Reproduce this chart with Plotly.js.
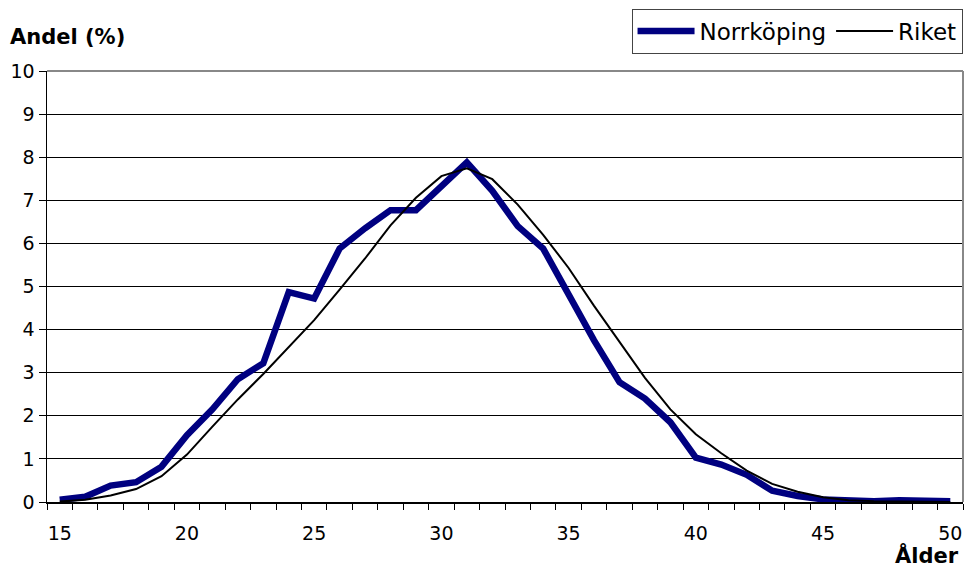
<!DOCTYPE html>
<html>
<head>
<meta charset="utf-8">
<script src="https://cdn.plot.ly/plotly-3.0.1.min.js"></script>
<style>html,body{margin:0;padding:0;background:#fff;}#chart{width:965px;height:579px;}</style>
</head>
<body>
<div id="chart"></div>
<script>
const ages = [15,16,17,18,19,20,21,22,23,24,25,26,27,28,29,30,31,32,33,34,35,36,37,38,39,40,41,42,43,44,45,46,47,48,49,50];
const norrkoping = [0.05,0.12,0.38,0.46,0.82,1.55,2.15,2.85,3.22,4.87,4.72,5.88,6.35,6.77,6.77,7.32,7.88,7.22,6.4,5.88,4.8,3.75,2.78,2.4,1.85,1.03,0.87,0.63,0.26,0.14,0.06,0.03,0.02,0.04,0.04,0.02];
const riket = [0.01,0.05,0.15,0.3,0.6,1.1,1.75,2.38,2.97,3.6,4.22,4.93,5.65,6.42,7.06,7.56,7.74,7.49,6.9,6.2,5.43,4.55,3.7,2.88,2.15,1.57,1.13,0.73,0.42,0.24,0.11,0.04,0.02,0.01,0.01,0.0];
const xTicks = [15,20,25,30,35,40,45,50];
const yTicks = [0,1,2,3,4,5,6,7,8,9,10];

const font = 'DejaVu Sans, Arial, sans-serif';

const traces = [
  {x: ages, y: norrkoping, name: 'Norrköping', type: 'scatter', mode: 'lines',
   line: {color: '#000080', width: 6.5}},
  {x: ages, y: riket, name: 'Riket', type: 'scatter', mode: 'lines',
   line: {color: '#000000', width: 2}}
];

const layout = {
  width: 965, height: 579,
  margin: {l: 47, r: 2, t: 71, b: 77},
  paper_bgcolor: '#fff', plot_bgcolor: '#fff',
  font: {family: font, size: 19, color: '#000'},
  showlegend: true,
  legend: {orientation: 'h', x: 0.9995, xanchor: 'right', y: 1.145, yanchor: 'top',
           bordercolor: '#444', borderwidth: 1, bgcolor: '#fff',
           itemwidth: 57,
           font: {family: font, size: 23, color: '#000'}, traceorder: 'normal'},
  xaxis: {range: [14.5, 50.5], tickvals: xTicks, ticktext: xTicks.map(String),
          ticks: '', showgrid: false, zeroline: false,
          showline: true, linecolor: '#000', linewidth: 1.5,
          ticklabelstandoff: 14,
          tickfont: {family: font, size: 19, color: '#000'},
          minor: {tick0: 14.5, dtick: 1, ticks: 'outside', ticklen: 6, tickcolor: '#000', tickwidth: 1, showgrid: false}},
  yaxis: {range: [0, 10], tickvals: yTicks, ticks: 'outside', ticklen: 7, tickcolor: '#000',
          showgrid: true, gridcolor: '#000', gridwidth: 1, zeroline: false,
          showline: true, linecolor: '#000', linewidth: 1.5,
          tickfont: {family: font, size: 19, color: '#000'}},
  shapes: [
    {type: 'line', xref: 'paper', yref: 'paper', x0: 0, x1: 1, y0: 1, y1: 1, line: {color: '#888', width: 2}, layer: 'above'},
    {type: 'line', xref: 'paper', yref: 'paper', x0: 1, x1: 1, y0: 0, y1: 1, line: {color: '#888', width: 2}, layer: 'above'}
  ],
  annotations: [
    {text: '<b>Andel (%)</b>', xref: 'paper', yref: 'paper', x: -0.043, xanchor: 'left',
     y: 1.078, yanchor: 'middle', showarrow: false, font: {family: font, size: 21, color: '#000'}},
    {text: '<b>Ålder</b>', xref: 'paper', yref: 'paper', x: 0.9975, xanchor: 'right',
     y: -0.125, yanchor: 'middle', showarrow: false, font: {family: font, size: 21, color: '#000'}}
  ]
};

Plotly.newPlot('chart', traces, layout, {displayModeBar: false, staticPlot: true});
</script>
</body>
</html>
